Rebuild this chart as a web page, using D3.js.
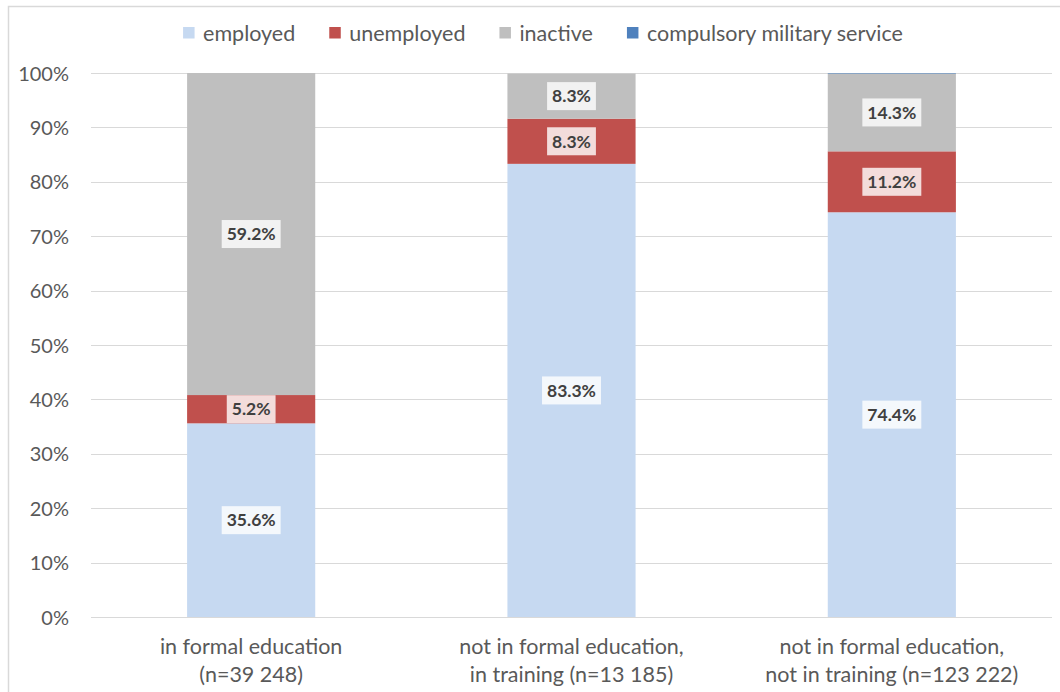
<!DOCTYPE html>
<html>
<head>
<meta charset="utf-8">
<script src="https://cdn.jsdelivr.net/npm/d3@7"></script>
<style>
  html, body { margin: 0; padding: 0; background: #fff; }
  svg { display: block; font-family: Lato, "Open Sans", sans-serif; }
</style>
</head>
<body>
<svg id="chart" width="1060" height="692"></svg>
<script>
// Categories (two lines each) and the share of each labour-market status, in %
const categories = [
  ["in formal education", "(n=39 248)"],
  ["not in formal education,", "in training (n=13 185)"],
  ["not in formal education,", "not in training (n=123 222)"]
];
const seriesNames = ["employed", "unemployed", "inactive", "compulsory military service"];
const employed   = [35.6, 83.3, 74.4];
const unemployed = [5.2, 8.3, 11.2];
const inactive   = [59.2, 8.3, 14.3];
const military   = [0.0, 0.0, 0.1];
const yTicks = [0, 10, 20, 30, 40, 50, 60, 70, 80, 90, 100];

const colors = ["#c6d9f1", "#c0504d", "#bfbfbf", "#4f81bd"];

const rows = categories.map((c, i) => ({
  key: i,
  employed: employed[i],
  unemployed: unemployed[i],
  inactive: inactive[i],
  "compulsory military service": military[i]
}));

const svg = d3.select("#chart");

// outer chart frame
svg.append("rect")
  .attr("x", 8.5).attr("y", 6.5)
  .attr("width", 1200).attr("height", 1000)
  .attr("fill", "#fff").attr("stroke", "#d9d9d9").attr("stroke-width", 1.5);

const plot = { left: 91, right: 1052, top: 73, bottom: 617 };

const x = d3.scaleBand()
  .domain(rows.map(d => d.key))
  .range([plot.left, plot.right])
  .paddingInner(0.6)
  .paddingOuter(0.3);

const y = d3.scaleLinear().domain([0, 100]).range([plot.bottom, plot.top]);

// gridlines
svg.append("g")
  .selectAll("line")
  .data(yTicks)
  .join("line")
  .attr("x1", plot.left).attr("x2", plot.right)
  .attr("y1", d => Math.round(y(d)) + 0.5).attr("y2", d => Math.round(y(d)) + 0.5)
  .attr("stroke", "#d9d9d9").attr("stroke-width", 1);

// y axis labels
const yAxis = d3.axisLeft(y).tickValues(yTicks).tickFormat(d => d + "%").tickSize(0).tickPadding(0);
const yg = svg.append("g").attr("transform", "translate(69,0)").call(yAxis);
yg.select(".domain").remove();
yg.selectAll("text")
  .attr("fill", "#595959")
  .style("font-size", "20px")
  .style("font-family", "Lato, sans-serif")
  .attr("dy", "0.35em");

// stacked bars
const stack = d3.stack().keys(seriesNames);
const stacked = stack(rows);

const layers = svg.append("g")
  .selectAll("g")
  .data(stacked)
  .join("g")
  .attr("fill", (d, i) => colors[i]);

layers.selectAll("rect")
  .data(d => d)
  .join("rect")
  .attr("x", d => x(d.data.key))
  .attr("width", x.bandwidth())
  .attr("y", d => y(d[1]))
  .attr("height", d => y(d[0]) - y(d[1]));

// value labels with translucent white boxes (first three series)
const labelG = svg.append("g");
stacked.slice(0, 3).forEach(layer => {
  layer.forEach(d => {
    const v = d[1] - d[0];
    const cx = x(d.data.key) + x.bandwidth() / 2;
    const cy = y((d[0] + d[1]) / 2);
    const g = labelG.append("g");
    const t = g.append("text")
      .attr("x", cx).attr("y", cy)
      .attr("text-anchor", "middle")
      .attr("dy", "0.36em")
      .attr("fill", "#404040")
      .style("font-size", "17.5px")
      .style("font-weight", "bold")
      .text(v.toFixed(1) + "%");
    const w = t.node().getComputedTextLength();
    g.insert("rect", "text")
      .attr("x", cx - w / 2 - 5)
      .attr("y", cy - 14)
      .attr("width", w + 10)
      .attr("height", 28)
      .attr("fill", "#fff")
      .attr("fill-opacity", 0.8);
  });
});

// category labels
const catG = svg.append("g");
rows.forEach((r, i) => {
  const cx = x(r.key) + x.bandwidth() / 2;
  categories[i].forEach((line, j) => {
    catG.append("text")
      .attr("x", cx).attr("y", 654 + j * 28)
      .attr("text-anchor", "middle")
      .attr("fill", "#595959")
      .style("font-size", "21.5px")
      .text(line);
  });
});

// legend
const legend = svg.append("g");
const items = seriesNames.map((name, i) => {
  const g = legend.append("g");
  g.append("rect").attr("width", 11.5).attr("height", 11.5).attr("y", -6).attr("fill", colors[i]);
  const t = g.append("text")
    .attr("x", 20).attr("dy", "0.35em")
    .attr("fill", "#595959")
    .style("font-size", "21.5px")
    .text(name);
  return { g, w: 20 + t.node().getComputedTextLength() };
});
const gap = 34;
const total = d3.sum(items, d => d.w) + gap * (items.length - 1);
let lx = 543 - total / 2;
items.forEach(it => {
  it.g.attr("transform", `translate(${lx},33)`);
  lx += it.w + gap;
});
</script>
</body>
</html>
